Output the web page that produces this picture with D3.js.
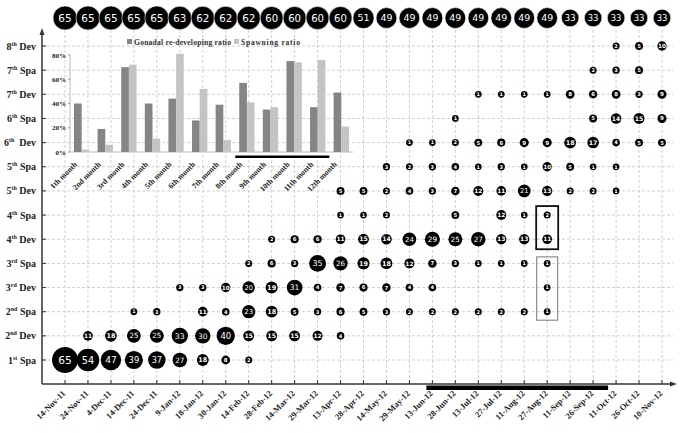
<!DOCTYPE html>
<html><head><meta charset="utf-8">
<script src="https://cdn.jsdelivr.net/npm/d3@7/dist/d3.min.js"></script>
<style>body{margin:0;background:#fff}svg{display:block}</style>
</head><body>
<svg id="c" width="683" height="433"></svg>
<script>
// ---------- data ----------
const dates = ["14-Nov-11","24-Nov-11","4-Dec-11","14-Dec-11","24-Dec-11","9-Jan-12","18-Jan-12","30-Jan-12","14-Feb-12","28-Feb-12","14-Mar-12","29-Mar-12","13-Apr-12","28-Apr-12","14-May-12","29-May-12","13-Jun-12","28-Jun-12","13-Jul-12","27-Jul-12","11-Aug-12","27-Aug-12","11-Sep-12","26-Sep-12","11-Oct-12","26-Oct-12","10-Nov-12"];
const stages = [["1","st","Spa"],["2","nd","Dev"],["2","nd","Spa"],["3","rd","Dev"],["3","rd","Spa"],["4","th","Dev"],["4","th","Spa"],["5","th","Dev"],["5","th","Spa"],["6","th"," Dev"],["6","th","Spa"],["7","th","Dev"],["7","th","Spa"],["8","th","Dev"]];
const totals = [65,65,65,65,65,63,62,62,62,60,60,60,60,51,49,49,49,49,49,49,49,49,33,33,33,33,33];
const spa1 = [65,54,47,39,37,27,18,8,2,0,0,0,0,0,0,0,0,0,0,0,0,0,0,0,0,0,0];
const dev2 = [0,11,18,25,25,33,30,40,15,15,15,12,4,0,0,0,0,0,0,0,0,0,0,0,0,0,0];
const spa2 = [0,0,0,1,3,0,11,4,23,18,5,3,6,5,3,2,2,2,2,2,2,1,0,0,0,0,0];
const dev3 = [0,0,0,0,0,3,3,10,20,19,31,4,7,6,7,4,4,0,0,0,0,1,0,0,0,0,0];
const spa3 = [0,0,0,0,0,0,0,0,2,6,3,35,26,19,18,12,7,3,1,1,1,1,0,0,0,0,0];
const dev4 = [0,0,0,0,0,0,0,0,0,2,6,6,11,15,14,24,29,25,27,13,13,11,0,0,0,0,0];
const spa4 = [0,0,0,0,0,0,0,0,0,0,0,0,1,1,2,0,0,5,0,12,1,2,0,0,0,0,0];
const dev5 = [0,0,0,0,0,0,0,0,0,0,0,0,5,5,2,4,3,7,12,11,21,13,2,2,1,0,0];
const spa5 = [0,0,0,0,0,0,0,0,0,0,0,0,0,0,3,2,3,4,1,3,1,10,5,1,1,0,0];
const dev6 = [0,0,0,0,0,0,0,0,0,0,0,0,0,0,0,1,1,2,5,6,9,9,18,17,4,5,5];
const spa6 = [0,0,0,0,0,0,0,0,0,0,0,0,0,0,0,0,0,1,0,0,0,0,0,5,14,15,9];
const dev7 = [0,0,0,0,0,0,0,0,0,0,0,0,0,0,0,0,0,0,1,1,1,1,8,6,8,3,9];
const spa7 = [0,0,0,0,0,0,0,0,0,0,0,0,0,0,0,0,0,0,0,0,0,0,0,2,3,5,0];
const dev8 = [0,0,0,0,0,0,0,0,0,0,0,0,0,0,0,0,0,0,0,0,0,0,0,0,2,5,10];
const stageValues = [spa1,dev2,spa2,dev3,spa3,dev4,spa4,dev5,spa5,dev6,spa6,dev7,spa7,dev8];

const months = ["1th month","2nd month","3rd month","4th month","5th month","6th month","7th month","8th month","9th month","10th month","11th month","12th month"];
const redevRatio = [40,19,70,40,44,26,39,57,35,75,37,49];
const spawnRatio = [2,6,72,11,81,52,10,41,37,74,76,21];
const ratioTicks = [0,20,40,60,80];

// ---------- chart ----------
const svg = d3.select("#c");
const serif = "'Liberation Serif','Times New Roman',serif";
const sans = "'DejaVu Sans',Verdana,sans-serif";
const x = d3.scalePoint().domain(dates).range([65, 662]);
const rowKeys = stages.map(s => s.join(""));
const y = d3.scalePoint().domain(rowKeys).range([360, 46]);
const r = d3.scaleLinear().domain([1, 65]).range([3.35, 12.95]);
const rTop = d3.scaleLinear().domain([33, 65]).range([8.8, 12]);
const axisX0 = 42, axisY0 = 384;

// grid
const grid = svg.append("g").attr("stroke", "#c4c4c4").attr("stroke-width", 0.8).attr("stroke-dasharray", "3,2");
grid.selectAll("line.v").data(dates).join("line")
  .attr("x1", d => x(d)).attr("x2", d => x(d)).attr("y1", 30).attr("y2", axisY0);
grid.selectAll("line.h").data(rowKeys).join("line")
  .attr("x1", axisX0).attr("x2", 673).attr("y1", d => y(d)).attr("y2", d => y(d));

// inset bar chart
const ix = d3.scaleBand().domain(months).range([70, 353]).paddingInner(0.35).paddingOuter(0.17);
const iy = d3.scaleLinear().domain([0, 80]).range([152, 55]);
const inset = svg.append("g");
inset.append("line").attr("x1", 70).attr("x2", 70).attr("y1", iy(80)).attr("y2", iy(0)).attr("stroke", "#bbb");
inset.append("line").attr("x1", 70).attr("x2", 353).attr("y1", iy(0)).attr("y2", iy(0)).attr("stroke", "#bbb");
inset.selectAll("text.tk").data(ratioTicks).join("text")
  .attr("x", 66).attr("y", d => iy(d) + 2.5).attr("text-anchor", "end")
  .attr("font-family", serif).attr("font-weight", "bold").attr("font-size", 7).attr("fill", "#222")
  .text(d => d + "%");
inset.selectAll("line.tk").data(ratioTicks).join("line")
  .attr("x1", 68).attr("x2", 70).attr("y1", d => iy(d)).attr("y2", d => iy(d)).attr("stroke", "#999");
const bw = ix.bandwidth() / 2;
inset.selectAll("rect.a").data(months).join("rect")
  .attr("x", d => ix(d)).attr("width", bw)
  .attr("y", (d, i) => iy(redevRatio[i])).attr("height", (d, i) => iy(0) - iy(redevRatio[i]))
  .attr("fill", "#858585");
inset.selectAll("rect.b").data(months).join("rect")
  .attr("x", d => ix(d) + bw).attr("width", bw)
  .attr("y", (d, i) => iy(spawnRatio[i])).attr("height", (d, i) => iy(0) - iy(spawnRatio[i]))
  .attr("fill", "#c4c4c4");
inset.selectAll("text.m").data(months).join("text")
  .attr("transform", d => `translate(${ix(d) + bw - 4},${iy(0) + 13}) rotate(-45)`)
  .attr("text-anchor", "end")
  .attr("font-family", serif).attr("font-weight", "bold").attr("font-size", 7.8).attr("fill", "#222")
  .text(d => d);
inset.append("rect").attr("x", ix(months[7]) - 4).attr("y", 155.5)
  .attr("width", ix(months[10]) + ix.bandwidth() + 4 - (ix(months[7]) - 4)).attr("height", 2.5).attr("fill", "#000");
// legend
const lg = inset.append("g").attr("font-family", serif).attr("font-weight", "bold").attr("font-size", 7.6).attr("fill", "#333");
lg.append("rect").attr("x", 127).attr("y", 39).attr("width", 5).attr("height", 5).attr("fill", "#858585");
lg.append("text").attr("x", 134).attr("y", 44.5).attr("textLength", 97).text("Gonadal re-developing ratio");
lg.append("rect").attr("x", 234).attr("y", 39).attr("width", 5).attr("height", 5).attr("fill", "#c4c4c4");
lg.append("text").attr("x", 241).attr("y", 44.5).attr("textLength", 59).text("Spawning ratio");

// axes
const ax = svg.append("g").attr("stroke", "#333").attr("stroke-width", 1.5);
ax.append("line").attr("x1", axisX0).attr("x2", axisX0).attr("y1", axisY0).attr("y2", 32);
ax.append("line").attr("x1", axisX0).attr("x2", 672).attr("y1", axisY0).attr("y2", axisY0);
svg.append("path").attr("d", `M${axisX0},28 L${axisX0 - 2.5},35 L${axisX0 + 2.5},35 Z`).attr("fill", "#333");
svg.append("path").attr("d", `M677,${axisY0} L670,${axisY0 - 2.5} L670,${axisY0 + 2.5} Z`).attr("fill", "#333");
const tk = svg.append("g").attr("stroke", "#333").attr("stroke-width", 1);
tk.selectAll("line.x").data(dates).join("line")
  .attr("x1", d => x(d)).attr("x2", d => x(d)).attr("y1", axisY0 - 4).attr("y2", axisY0);
tk.selectAll("line.y").data(rowKeys).join("line")
  .attr("x1", axisX0).attr("x2", axisX0 + 4).attr("y1", d => y(d)).attr("y2", d => y(d));

// x labels
svg.append("g").selectAll("text").data(dates).join("text")
  .attr("transform", d => `translate(${x(d) + 1},${axisY0 + 10}) rotate(-45)`)
  .attr("text-anchor", "end")
  .attr("font-family", serif).attr("font-weight", "bold").attr("font-size", 8.5).attr("fill", "#222")
  .text(d => d);

// y labels
const yl = svg.append("g").selectAll("text").data(stages).join("text")
  .attr("x", 36).attr("y", d => y(d.join("")) + 3.5).attr("text-anchor", "end")
  .attr("font-family", serif).attr("font-weight", "bold").attr("font-size", 10).attr("fill", "#222")
  .attr("xml:space", "preserve");
yl.append("tspan").text(d => d[0]);
yl.append("tspan").attr("font-size", 6).attr("dy", -4).text(d => d[1]);
yl.append("tspan").attr("dy", 4).text(d => " " + d[2]);

// thick period bar under x axis
svg.append("rect").attr("x", x(dates[16]) - 6).attr("y", axisY0 + 1.5)
  .attr("width", x(dates[24]) - 8 - (x(dates[16]) - 6)).attr("height", 4.5).attr("fill", "#000");

// bubbles
const cells = [];
stageValues.forEach((arr, si) => arr.forEach((v, ci) => { if (v > 0) cells.push({ row: rowKeys[si], col: dates[ci], v }); }));
const bub = svg.append("g").selectAll("g").data(cells).join("g")
  .attr("transform", d => `translate(${x(d.col)},${y(d.row)})`);
bub.append("circle").attr("r", d => r(d.v)).attr("fill", "#000");
bub.append("text").attr("text-anchor", "middle").attr("dy", "0.36em")
  .attr("font-family", sans).attr("font-weight", d => d.v < 20 ? "bold" : "normal")
  .attr("font-size", d => 2.9 + 0.6 * r(d.v)).attr("fill", "#fff")
  .text(d => d.v);

// totals row
const topRow = svg.append("g").selectAll("g").data(totals).join("g")
  .attr("transform", (d, i) => `translate(${x(dates[i])},18)`);
topRow.append("circle").attr("r", d => rTop(d)).attr("fill", "#000").attr("stroke", "#fff").attr("stroke-width", 0.6);
topRow.append("text").attr("text-anchor", "middle").attr("dy", "0.36em")
  .attr("font-family", sans).attr("font-size", d => 3 + 0.62 * rTop(d)).attr("fill", "#fff")
  .text(d => d);

// highlight boxes
const bx = x(dates[21]);
svg.append("rect").attr("x", bx - 11).attr("y", y("4thSpa") - 9).attr("width", 22)
  .attr("height", y("4thDev") - y("4thSpa") + 19).attr("fill", "none").attr("stroke", "#111").attr("stroke-width", 1.8);
svg.append("rect").attr("x", bx - 10.5).attr("y", y("3rdSpa") - 6.5).attr("width", 21)
  .attr("height", y("2ndSpa") - y("3rdSpa") + 15).attr("fill", "none").attr("stroke", "#777").attr("stroke-width", 1);
</script>
</body></html>
